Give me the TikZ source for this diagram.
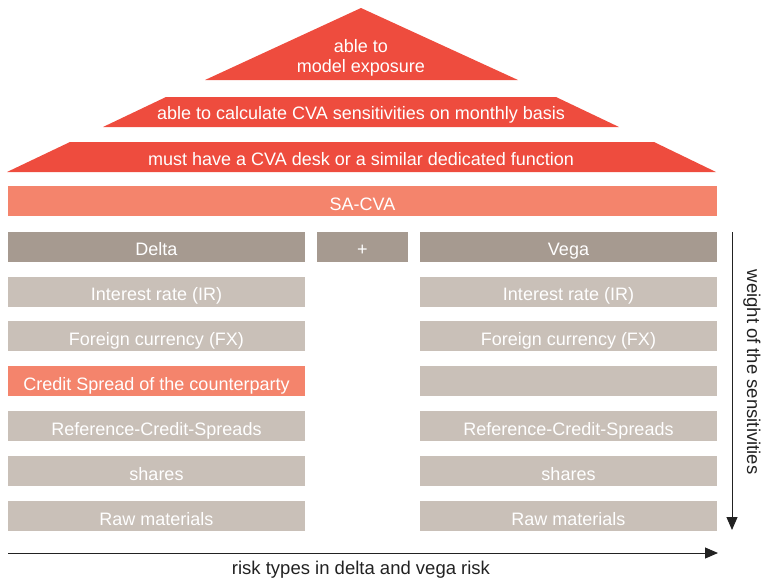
\documentclass[tikz,border=0pt]{standalone}
\usepackage{fontspec}
\setmainfont{Liberation Sans}
\usetikzlibrary{arrows.meta}

\definecolor{roofred}{HTML}{EE4C3E}
\definecolor{salmon}{HTML}{F4846C}
\definecolor{headgray}{HTML}{A69A90}
\definecolor{rowgray}{HTML}{C9C0B8}
\definecolor{axisgray}{HTML}{222222}

\begin{document}
\begin{tikzpicture}[x=1pt,y=-1pt,
  % fixed text box so that capitals sit slightly below the node centre
  line/.style={font=\fontsize{18}{21}\selectfont, text=white, inner sep=0pt,
    text height=18pt, text depth=0pt},
  cell/.style={line, rectangle, minimum height=30pt, minimum width=297pt},
  head/.style={cell, fill=headgray},
  row/.style={cell, fill=rowgray},
  hot/.style={cell, fill=salmon},
  plusbox/.style={cell, fill=headgray, minimum width=91pt},
  roof/.style={fill=roofred},
  axis/.style={draw=axisgray, line width=1pt, -{Triangle[length=13pt,width=11pt]}},
  axislabel/.style={font=\fontsize{18.5}{20}\selectfont, text=axisgray, inner sep=0pt}]
\useasboundingbox (0,0) rectangle (766,579);

% roof: triangle and two trapezoids
\fill[roof] (205,80) -- (361,8) -- (518,80) -- cycle;
\node[line] (exposure1) at (361,43.5) {able to};
\node[line] (exposure2) at (361,63) {model exposure};
\fill[roof] (103,127) -- (166,97) -- (556,97) -- (619,127) -- cycle;
\node[line] (monthly) at (361,110.5) {able to calculate CVA sensitivities on monthly basis};
\fill[roof] (7,172) -- (70,142) -- (654,142) -- (716,172) -- cycle;
\node[line] (desk) at (361,156) {must have a CVA desk or a similar dedicated function};

% base bar
\node[cell, fill=salmon, minimum width=709pt] (sacva) at (362.5,201) {SA-CVA};

% headers
\node[head] (delta) at (156.5,246.5) {Delta};
\node[plusbox] (plus) at (362.5,246.5) {+};
\node[head] (vega) at (568.5,246.5) {Vega};

% delta column
\node[row] (dIR) at (156.5,291.5) {Interest rate (IR)};
\node[row] (dFX) at (156.5,336) {Foreign currency (FX)};
\node[hot] (dCS) at (156.5,381) {Credit Spread of the counterparty};
\node[row] (dRCS) at (156.5,426) {Reference-Credit-Spreads};
\node[row] (dSh) at (156.5,471) {shares};
\node[row] (dRM) at (156.5,516) {Raw materials};

% vega column
\node[row] (vIR) at (568.5,291.5) {Interest rate (IR)};
\node[row] (vFX) at (568.5,336) {Foreign currency (FX)};
\node[row] (vCS) at (568.5,381) {};
\node[row] (vRCS) at (568.5,426) {Reference-Credit-Spreads};
\node[row] (vSh) at (568.5,471) {shares};
\node[row] (vRM) at (568.5,516) {Raw materials};

% axes
\coordinate (wtop) at (732,232);
\coordinate (wbot) at (732,530);
\draw[axis] (wtop) -- (wbot);
\node[axislabel, rotate=-90] (weight) at (752,372) {weight of the sensitivities};

\coordinate (rleft) at (8,553);
\coordinate (rright) at (718,553);
\draw[axis] (rleft) -- (rright);
\node[axislabel] (risk) at (361,570) {risk types in delta and vega risk};
\end{tikzpicture}
\end{document}
